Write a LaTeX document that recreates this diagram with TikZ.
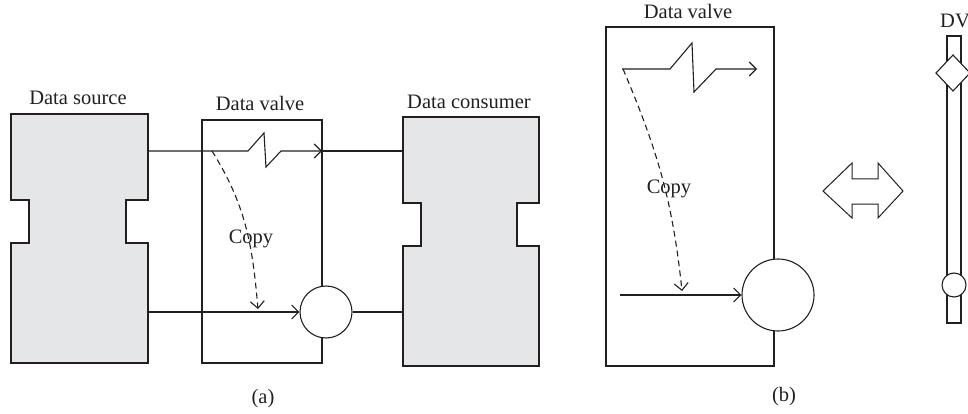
\documentclass[tikz,border=0pt]{standalone}
\usepackage{fontspec}
\setmainfont{Liberation Serif}
\usetikzlibrary{arrows.meta}
\definecolor{ink}{HTML}{231F20}
\definecolor{blockgray}{HTML}{E5E6E8}
\begin{document}
\begin{tikzpicture}[x=1pt,y=-1pt, line width=1.1pt, color=ink,
  lbl/.style={font=\fontsize{20.5}{24}\selectfont, text=ink, inner sep=0pt},
  tip/.style={-{Straight Barb[length=7pt,width=14pt,line width=1.1pt]}},
  block/.style={draw=ink, fill=blockgray, line width=1.2pt},
  valvebox/.style={draw=ink, fill=none},
  junction/.style={circle, draw=ink, fill=white, inner sep=0pt, line width=1.1pt},
  dashcurve/.style={dashed, dash pattern=on 6pt off 4pt, tip}
]
\useasboundingbox (0,0) rectangle (968,414);

% ---------- (a) ----------
% Data source
\draw[block] (11,114) -- (148,114) -- (148,200) -- (126,200) -- (126,243) -- (148,243)
  -- (148,363) -- (11,363) -- (11,243) -- (29,243) -- (29,200) -- (11,200) -- cycle;
\coordinate (srcTop) at (148,151);
\coordinate (srcBot) at (148,312);
\node[lbl] (srcLbl) at (78,98) {Data source};

% Data consumer
\draw[block] (403,117) -- (539,117) -- (539,203) -- (517,203) -- (517,246) -- (539,246)
  -- (539,366) -- (403,366) -- (403,246) -- (421,246) -- (421,203) -- (403,203) -- cycle;
\coordinate (conTop) at (403,151);
\coordinate (conBot) at (403,312);
\node[lbl] (conLbl) at (469,102) {Data consumer};

% Data valve (a)
\draw[valvebox] (202,120) rectangle (322,363);
\node[lbl] (valveLblA) at (260,103) {Data valve};
\coordinate (valveOutA) at (322,151);
\node[junction, minimum size=52pt] (jA) at (326,312) {};

\draw[tip] (srcTop) -- (248,151) -- (264,133) -- (266,167) -- (281,151) -- (valveOutA);
\draw (valveOutA) -- (conTop);
\draw[tip] (srcBot) -- (jA.west);
\draw (jA.east) -- (conBot);

\coordinate (copyStartA) at (212,151);
\coordinate (copyEndA) at (258,309);
\draw[dashcurve] (copyStartA) to[out=-58,in=95] (copyEndA);
\node[lbl] (copyA) at (251,239) {Copy};

\node[lbl] (capA) at (263,399) {(a)};

% ---------- (b) ----------
\draw[valvebox] (606,27) rectangle (774,366);
\node[lbl] (valveLblB) at (688,11) {Data valve};
\node[junction, minimum size=72pt] (jB) at (778,295) {};

\coordinate (topInB) at (622,69);
\coordinate (topOutB) at (757,69);
\draw[tip] (topInB) -- (670,69) -- (692,43) -- (694,92) -- (716,69) -- (topOutB);

\coordinate (botInB) at (620,295);
\draw[tip] (botInB) -- (jB.west);

\coordinate (copyStartB) at (623,69);
\coordinate (copyEndB) at (682,291);
\draw[dashcurve] (copyStartB) to[out=-67,in=96] (copyEndB);
\node[lbl] (copyB) at (669,189) {Copy};

\node[lbl] (capB) at (784,397) {(b)};

% double arrow
\draw[line width=1pt] (823,191) -- (852,163) -- (852,179) -- (878,179) -- (878,163) -- (903,191)
  -- (878,218) -- (878,204) -- (852,204) -- (852,218) -- cycle;

% DV slider
\node[lbl] (dvLbl) at (955,21) {DV};
\draw (947,36) rectangle (961,323);
\draw[fill=white] (953,55) -- (970,73) -- (953,91) -- (936,73) -- cycle;
\node[junction, minimum size=24pt] (dvKnob) at (954,285) {};
\end{tikzpicture}
\end{document}
